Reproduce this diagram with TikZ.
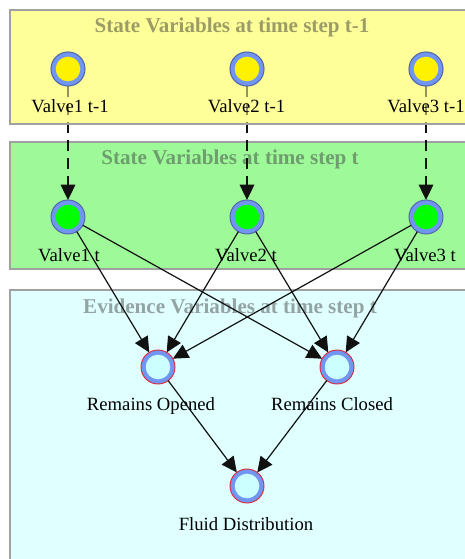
\documentclass[tikz,border=0pt]{standalone}
\usepackage{fontspec}
\setmainfont{Liberation Serif}
\usetikzlibrary{arrows.meta}

\definecolor{prevfill}{HTML}{FFFF99}
\definecolor{curfill}{HTML}{9EFA98}
\definecolor{evfill}{HTML}{E0FFFF}
\definecolor{framegray}{HTML}{A0A0A0}
\definecolor{prevtitle}{HTML}{9C9C66}
\definecolor{curtitle}{HTML}{6E9E6E}
\definecolor{evtitle}{HTML}{94A4A4}
\definecolor{ringblue}{HTML}{7096F2}
\definecolor{ringedge}{HTML}{4E62A8}
\definecolor{evedge}{HTML}{E0283A}
\definecolor{corelight}{HTML}{CCFFFF}
\definecolor{edgeink}{HTML}{111111}

\tikzset{
  groupbox/.style={draw=framegray, line width=1.6pt},
  grouptitle/.style={anchor=base, inner sep=0pt,
    font=\fontsize{15.8}{19}\selectfont\bfseries},
  varnode/.style={circle, minimum size=25.5pt, inner sep=0pt, outer sep=0pt,
    fill=ringblue, draw=#1, line width=0.7pt},
  core/.style={path picture={\fill[#1] (path picture bounding box.center) circle (12.3);}},
  vlabel/.style={anchor=base, inner sep=0pt, font=\fontsize{14}{17}\selectfont},
  link/.style={draw=edgeink, line width=0.9pt,
    -{Triangle[length=11.5pt, width=11pt]}},
  timelink/.style={link, dash pattern=on 8.25pt off 5.25pt},
}

\begin{document}
\begin{tikzpicture}[x=0.75pt, y=-0.75pt]
\useasboundingbox (0,0) rectangle (464,559);
\fill[white] (0,0) rectangle (464,559);

% group frames
\fill[prevfill] (10,10) rectangle (480,124);
\path[groupbox, fill=curfill] (10,142) rectangle (480,269);
\path[groupbox, fill=evfill] (10,290) rectangle (480,580);

% group titles
\node[grouptitle, text=curtitle] (tcur) at (230,164.5) {State Variables at time step t};
\node[grouptitle, text=evtitle] (tev) at (230,313) {Evidence Variables at time step t};

% variables at t-1
\node[varnode=ringedge, core=yellow] (p1) at (68,69) {};
\node[varnode=ringedge, core=yellow] (p2) at (247,69) {};
\node[varnode=ringedge, core=yellow] (p3) at (426,69) {};

% variables at t
\node[varnode=ringedge, core=green] (c1) at (68,217) {};
\node[varnode=ringedge, core=green] (c2) at (247,217) {};
\node[varnode=ringedge, core=green] (c3) at (426,217) {};

% evidence variables
\node[varnode=evedge, core=corelight] (ro) at (158,367) {};
\node[varnode=evedge, core=corelight] (rc) at (337,367) {};
\node[varnode=evedge, core=corelight] (fd) at (247,486) {};

% transitions between time steps
\draw[timelink] (p1) -- (c1);
\draw[timelink] (p2) -- (c2);
\draw[timelink] (p3) -- (c3);

% yellow frame laid over the upper part of the transitions
\path[groupbox, fill=prevfill, fill opacity=0.55] (10,10) rectangle (480,124);
\node[varnode=ringedge, core=yellow] (p1top) at (p1) {};
\node[varnode=ringedge, core=yellow] (p2top) at (p2) {};
\node[varnode=ringedge, core=yellow] (p3top) at (p3) {};
\node[grouptitle, text=prevtitle] (tprev) at (232,33) {State Variables at time step t-1};

% observation links
\draw[link] (c1) -- (ro);
\draw[link] (c1) -- (rc);
\draw[link] (c2) -- (ro);
\draw[link] (c2) -- (rc);
\draw[link] (c3) -- (ro);
\draw[link] (c3) -- (rc);
\draw[link] (ro) -- (fd);
\draw[link] (rc) -- (fd);

% labels
\node[vlabel] (lp1) at (70,112.3) {Valve1 t-1};
\node[vlabel] (lp2) at (246.5,112.3) {Valve2 t-1};
\node[vlabel] (lp3) at (426,112.3) {Valve3 t-1};
\node[vlabel] (lc1) at (69,261.5) {Valve1 t};
\node[vlabel] (lc2) at (246,261.5) {Valve2 t};
\node[vlabel] (lc3) at (425,261.5) {Valve3 t};
\node[vlabel] (lro) at (151,410) {Remains Opened};
\node[vlabel] (lrc) at (332,410) {Remains Closed};
\node[vlabel] (lfd) at (246,530) {Fluid Distribution};
\end{tikzpicture}
\end{document}
